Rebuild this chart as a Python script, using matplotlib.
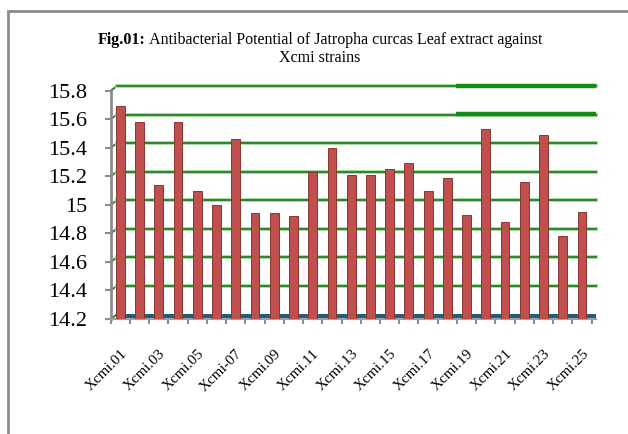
import numpy as np
import matplotlib
matplotlib.use('Agg')
import matplotlib.pyplot as plt
import matplotlib.transforms as mtrans
from matplotlib.patches import Rectangle

# values
strains = ['Xcmi.%02d' % i for i in range(1, 26)]
strains[6] = 'Xcmi-07'
zone = [15.69, 15.58, 15.14, 15.58, 15.10, 15.00, 15.46, 14.94, 14.94, 14.92,
        15.23, 15.40, 15.21, 15.21, 15.25, 15.29, 15.10, 15.19, 14.93, 15.53,
        14.88, 15.16, 15.49, 14.78, 14.95]
yticks = [14.2, 14.4, 14.6, 14.8, 15, 15.2, 15.4, 15.6, 15.8]
ylabels = ['14.2', '14.4', '14.6', '14.8', '15', '15.2', '15.4', '15.6', '15.8']
title_bold = 'Fig.01:'
title_rest = ' Antibacterial Potential of Jatropha curcas Leaf extract against'
title_line2 = 'Xcmi strains'

plt.rcParams['font.family'] = ['Liberation Serif', 'DejaVu Serif']

W, H = 628, 434
fig = plt.figure(figsize=(W / 100, H / 100), dpi=100)
# outer chart frame (runs off the right and bottom edge like the reference)
fig.patches.append(Rectangle((7.5 / W, -0.1), 1.2, 1 - 11 / H + 0.1,
                             transform=fig.transFigure, fill=False,
                             edgecolor='#8c8c8c', linewidth=2))

ax = fig.add_axes([110.7 / W, 1 - 319 / H, 485.3 / W, 228.3 / H])
x = np.arange(len(strains))
ax.set_xlim(-0.483, len(strains) - 1 + 0.727)
ax.set_ylim(14.2, 15.8)

# fake 3D depth: back wall gridlines sit a few pixels up and right
px = 0.2 / 28.54          # data units per pixel
dy = 4.5 * px
dxf = 6 / 485.3
bl = mtrans.blended_transform_factory(ax.transAxes, ax.transData)
for t in yticks:
    ax.plot([0, dxf], [t, t + dy], transform=bl, color='#2a862a', lw=1.4,
            clip_on=False, zorder=1)
    if t == yticks[0]:
        continue
    ax.plot([dxf, 1], [t + dy, t + dy], transform=bl, color='#a6dba6', lw=2.8,
            clip_on=False, zorder=1)
    ax.plot([dxf, 1], [t + dy, t + dy], transform=bl, color='#2a862a', lw=1.4,
            clip_on=False, zorder=1)
# the two heavier segments on the right of the reference
for t in yticks[-2:]:
    ax.plot([0.7115, 1], [t + dy + 0.5 * px, t + dy + 0.5 * px], transform=bl,
            color='#168c16', lw=3.2, clip_on=False, zorder=1.5,
            solid_capstyle='butt')

# floor
ax.fill_between([dxf, 1], 14.2 + 1 * px, 14.2 + 5 * px, transform=bl,
                color='#1f5f7a', lw=0, zorder=2)

ax.bar(x, [v - 14.2 for v in zone], bottom=14.2, width=0.46,
       color='#c0504d', edgecolor='#8e3431', linewidth=0.7, zorder=3)

ax.set_yticks(yticks)
ax.set_yticklabels(ylabels, fontsize=16)
ax.set_xticks(x[::2])
ax.set_xticklabels(strains[::2], rotation=45, ha='right', va='top',
                   rotation_mode='anchor', fontsize=10.8)
ax.set_xticks(np.arange(-0.5, len(strains), 1), minor=True)
ax.tick_params(axis='x', which='major', length=0, pad=20)
ax.tick_params(axis='x', which='minor', length=3.5, width=1.5, color='#8c8c8c')
ax.tick_params(axis='y', length=4, width=1.5, color='#8c8c8c', pad=13)

for s in ['top', 'right']:
    ax.spines[s].set_visible(False)
ax.spines['left'].set_color('#8c8c8c')
ax.spines['left'].set_linewidth(2)
ax.spines['bottom'].set_color('#a0a0a0')
ax.spines['bottom'].set_linewidth(1.5)

# title: bold prefix + regular text, centred as one line
r = fig.canvas.get_renderer()
t1 = fig.text(0, 1 - 40 / H, title_bold, fontweight='bold', fontsize=11.5,
              va='center')
t2 = fig.text(0, 1 - 40 / H, title_rest, fontsize=11.5, va='center')
w1 = t1.get_window_extent(r).width
w2 = t2.get_window_extent(r).width
x0 = 320 - (w1 + w2) / 2
t1.set_x(x0 / W)
t2.set_x((x0 + w1) / W)
fig.text(320 / W, 1 - 58 / H, title_line2, fontsize=11.5, ha='center',
         va='center')

fig.savefig('out.png', dpi=100)
